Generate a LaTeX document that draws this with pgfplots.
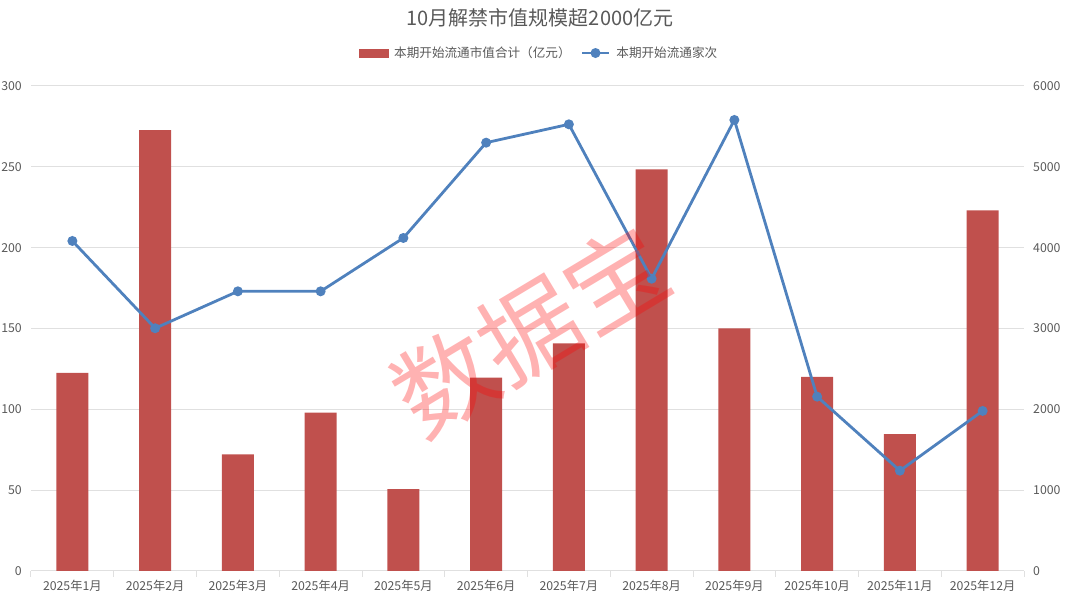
\documentclass[border=0pt]{standalone}
\usepackage{fontspec}
\setmainfont{Noto Sans CJK SC}
\usepackage{pgfplots}
\pgfplotsset{compat=1.18}
\definecolor{barred}{HTML}{C0504D}
\definecolor{lineblue}{HTML}{4F81BD}
\definecolor{gridgray}{HTML}{E0E0E0}
\definecolor{txtgray}{HTML}{595959}
\begin{document}
\begin{tikzpicture}[x=1pt,y=1pt]
\useasboundingbox (-31,-28) rectangle (1049,571);
\begin{axis}[
  at={(0,0)}, anchor=south west, scale only axis,
  width=993pt, height=485pt,
  xmin=-0.5, xmax=11.5, ymin=0, ymax=300,
  ytick={0,50,...,300},
  axis x line*=bottom, axis y line*=left,
  y axis line style={draw=none},
  x axis line style={gridgray, line width=1pt, -},
  ymajorgrids, major grid style={gridgray, line width=1pt},
  major tick length=0pt,
  xtick={0,...,11},
  xticklabels={2025年1月,2025年2月,2025年3月,2025年4月,2025年5月,2025年6月,2025年7月,2025年8月,2025年9月,2025年10月,2025年11月,2025年12月},
  extra x ticks={-0.5,0.5,...,11.5},
  extra x tick labels={},
  extra x tick style={major tick length=6pt, tick align=outside, tick style={gridgray, line width=1pt}, xmajorgrids=false},
  tick label style={font=\fontsize{12.3}{12.3}\selectfont, text=txtgray},
  /pgf/number format/assume math mode=true,
  /pgf/number format/1000 sep={},
  yticklabel style={inner sep=0pt, xshift=-9pt},
  xticklabel style={inner sep=0pt, yshift=-9pt},
  clip=false,
]
\addplot[ybar, bar width=32pt, fill=barred, draw=none] coordinates {
(0,122.5) (1,272.7) (2,72.2) (3,97.9) (4,50.7) (5,119.6)
(6,140.8) (7,248.4) (8,150.1) (9,120.0) (10,84.7) (11,223.1)};
\end{axis}
\begin{axis}[
  at={(0,0)}, anchor=south west, scale only axis,
  width=993pt, height=485pt,
  xmin=-0.5, xmax=11.5, ymin=0, ymax=6000,
  ytick={0,1000,...,6000},
  axis x line=none, axis y line*=right,
  y axis line style={draw=none},
  major tick length=0pt,
  tick label style={font=\fontsize{12.3}{12.3}\selectfont, text=txtgray},
  /pgf/number format/assume math mode=true,
  /pgf/number format/1000 sep={},
  yticklabel style={inner sep=0pt, xshift=9pt},
  clip=false,
  legend columns=2,
  legend style={draw=none, fill=none, at={(0.5116,1.068)}, anchor=center,
    font=\fontsize{12.6}{12.6}\selectfont, text=txtgray,
    /tikz/every odd column/.append style={column sep=4pt},
    /tikz/every even column/.append style={column sep=8pt}},
]
\addlegendimage{legend image code/.code={\fill[barred] (0pt,-4pt) rectangle (29pt,4pt);}}
\addlegendentry{本期开始流通市值合计（亿元）}
\addplot[lineblue, line width=2.8pt, mark=*, mark size=3.5pt, mark options={fill=lineblue, draw=lineblue},
  legend image code/.code={\draw[lineblue, line width=2.8pt] (0pt,0pt)--(27pt,0pt); \fill[lineblue] (13.5pt,0pt) circle (3.5pt);}]
coordinates {
(0,4083) (1,3003) (2,3460) (3,3460) (4,4120) (5,5299)
(6,5526) (7,3616) (8,5580) (9,2157) (10,1241) (11,1980)};
\addlegendentry{本期开始流通家次}
\end{axis}
\node[font=\fontsize{20}{20}\selectfont, text=txtgray] at (509,553) {10月解禁市值规模超2000亿元};
\node[rotate=31, text=red, opacity=0.3, font=\fontsize{100}{100}\selectfont] at (499,241) {数据宝};
\end{tikzpicture}
\end{document}
